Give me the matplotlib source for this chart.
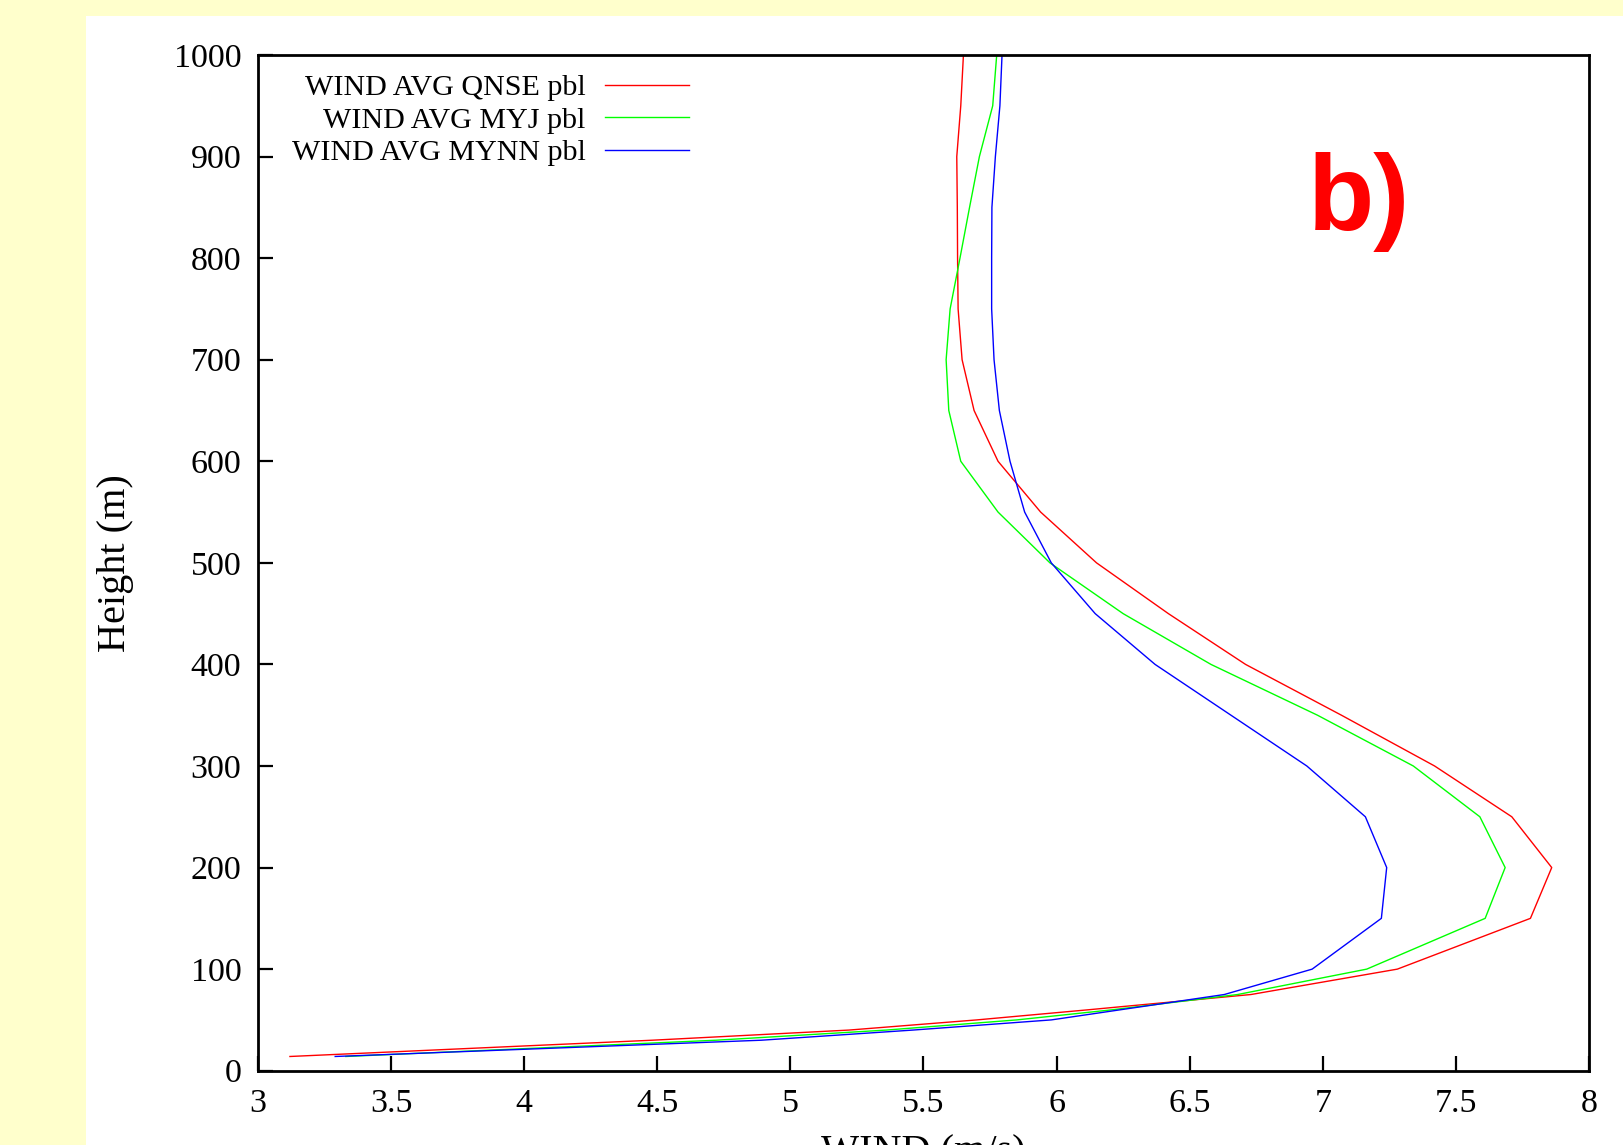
import matplotlib
matplotlib.use("Agg")
import matplotlib.pyplot as plt
from matplotlib.patches import Rectangle

# ---- data ----
heights = [14, 30, 40, 50, 60, 75, 100, 150, 200, 250, 300, 350, 400, 450,
           500, 550, 600, 650, 700, 750, 800, 850, 900, 950, 1000]
wind_qnse = [3.12, 4.48, 5.22, 5.70, 6.12, 6.73, 7.28, 7.78, 7.86, 7.71, 7.42,
             7.07, 6.71, 6.42, 6.15, 5.94, 5.78, 5.69, 5.645, 5.63, 5.628,
             5.627, 5.625, 5.64, 5.65]
wind_myj = [3.33, 4.72, 5.36, 5.85, 6.21, 6.68, 7.165, 7.61, 7.685, 7.59, 7.34,
            6.98, 6.58, 6.25, 5.975, 5.78, 5.64, 5.595, 5.585, 5.60, 5.637,
            5.673, 5.71, 5.76, 5.775]
wind_mynn = [3.29, 4.89, 5.46, 5.98, 6.24, 6.63, 6.96, 7.22, 7.24, 7.16, 6.94,
             6.655, 6.37, 6.145, 5.98, 5.88, 5.825, 5.785, 5.765, 5.756, 5.756,
             5.757, 5.77, 5.787, 5.795]
series_labels = ["WIND AVG QNSE pbl", "WIND AVG MYJ pbl", "WIND AVG MYNN pbl"]
series_colors = ["#ff0000", "#00ff00", "#0000ff"]
xticks = [3, 3.5, 4, 4.5, 5, 5.5, 6, 6.5, 7, 7.5, 8]
xticklabels = ["3", "3.5", "4", "4.5", "5", "5.5", "6", "6.5", "7", "7.5", "8"]
yticks = [0, 100, 200, 300, 400, 500, 600, 700, 800, 900, 1000]
yticklabels = [str(v) for v in yticks]

W, H = 1623, 1145
fig = plt.figure(figsize=(W / 100, H / 100), dpi=100)
fig.patch.set_facecolor("#ffffcc")
fig.patches.append(Rectangle((86 / W, 0), 1 - 86 / W, (H - 16) / H,
                             transform=fig.transFigure, facecolor="white",
                             edgecolor="none", zorder=-10))

L, R, T, B = 258, 1589, 55, 1070.7
ax = fig.add_axes([L / W, (H - B) / H, (R - L) / W, (B - T) / H])
ax.set_zorder(5)
ax.set_facecolor("white")

serif = ["Liberation Serif", "DejaVu Serif"]

for vals, lab, col in zip([wind_qnse, wind_myj, wind_mynn], series_labels, series_colors):
    ax.plot(vals, heights, color=col, lw=1.0, label=lab)

ax.set_xlim(3, 8)
ax.set_ylim(0, 1000)
ax.set_xticks(xticks)
ax.set_xticklabels(xticklabels, family=serif, fontsize=24.5)
ax.set_yticks(yticks)
ax.set_yticklabels(yticklabels, family=serif, fontsize=24.5)
ax.tick_params(axis="x", direction="in", length=11, width=1.6, pad=12.5)
ax.tick_params(axis="y", direction="in", length=11, width=1.6, pad=12)
ax.tick_params(top=False, right=False)
for sp in ax.spines.values():
    sp.set_linewidth(2.0)

ax.set_xlabel("WIND (m/s)", family=serif, fontsize=29)
ax.xaxis.set_label_coords(0.5, -0.0625)
ax.set_ylabel("Height (m)", family=serif, fontsize=29)
ax.yaxis.set_label_coords(-0.0928, 0.5)

leg = ax.legend(loc="upper right", bbox_to_anchor=((689 - L) / (R - L), (B - 74) / (B - T)),
                frameon=False, markerfirst=False, prop={"family": serif, "size": 21.6},
                handlelength=2.8, handletextpad=0.65, labelspacing=0.19,
                borderpad=0, borderaxespad=0)

ax.text((1308 - L) / (R - L), (B - 229.7) / (B - T), "b)", transform=ax.transAxes,
        color="#ff0000", fontsize=78, fontweight="bold",
        family=["Liberation Sans", "DejaVu Sans"], ha="left", va="baseline")

fig.savefig("out.png", dpi=100, facecolor=fig.get_facecolor())
